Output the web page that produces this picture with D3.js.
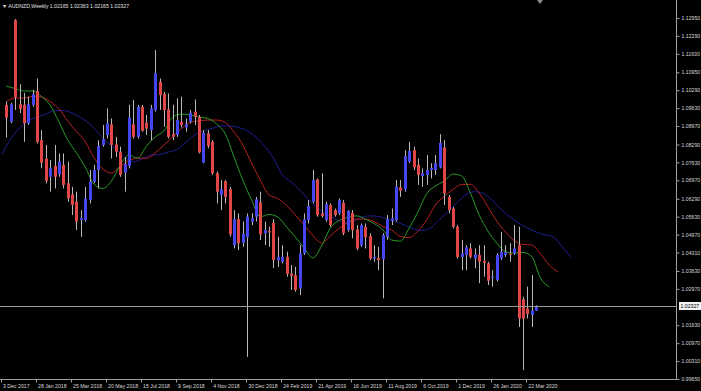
<!DOCTYPE html>
<html><head><meta charset="utf-8">
<script src="https://cdn.jsdelivr.net/npm/d3@7"></script>
<style>html,body{margin:0;padding:0;background:#000;overflow:hidden}</style>
</head><body>
<svg id="c" width="701" height="391"></svg>
<script>
// ---- data ----
const titleText = "\u25BC AUDNZD,Weekly  1.02165 1.02363 1.02165 1.02327";
const firstBarDate = "2017-12-10"; // weekly bars, one per week
const opens = [1.0975,1.0913,1.1287,1.0977,1.0975,1.0907,1.0975,1.1026,1.0845,1.0777,
1.0710,1.0750,1.0720,1.0754,1.0686,1.0645,1.0618,1.0551,1.0551,1.0624,
1.0692,1.0735,1.0827,1.0864,1.0903,1.0829,1.0802,1.0725,1.0750,1.0903,
1.0857,1.0968,1.0909,1.0882,1.0956,1.1060,1.1015,1.0958,1.0867,1.0864,
1.0913,1.0892,1.0913,1.0950,1.0931,1.0762,1.0870,1.0839,1.0723,1.0643,
1.0694,1.0665,1.0458,1.0554,1.0467,1.0487,1.0545,1.0563,1.0616,1.0502,
1.0510,1.0540,1.0403,1.0397,1.0415,1.0354,1.0348,1.0299,1.0428,1.0551,
1.0618,1.0700,1.0575,1.0551,1.0606,1.0587,1.0575,1.0614,1.0514,1.0577,
1.0516,1.0458,1.0526,1.0492,1.0409,1.0411,1.0406,1.0489,1.0548,1.0551,
1.0671,1.0664,1.0766,1.0808,1.0754,1.0713,1.0717,1.0735,1.0735,1.0745,
1.0818,1.0636,1.0593,1.0526,1.0415,1.0422,1.0446,1.0409,1.0422,1.0400,
1.0391,1.0340,1.0330,1.0409,1.0422,1.0426,1.0428,1.0458,1.0258,1.0225,
1.0201,1.02165];
const highs = [1.0987,1.0983,1.1291,1.1051,1.1019,1.1005,1.1030,1.1072,1.0882,1.0827,
1.0772,1.0827,1.0796,1.0796,1.0766,1.0673,1.0655,1.0587,1.0673,1.0735,
1.0754,1.0845,1.0901,1.0962,1.0925,1.0857,1.0821,1.0783,1.0975,1.0993,
1.0975,1.0975,1.0938,1.0975,1.1177,1.1072,1.1023,1.1017,1.0975,1.0999,
1.1005,1.0925,1.0956,1.0995,1.0938,1.0882,1.0882,1.0845,1.0729,1.0698,
1.0698,1.0673,1.0587,1.0575,1.0545,1.0575,1.0576,1.0636,1.0655,1.0545,
1.0526,1.0554,1.0489,1.0458,1.0434,1.0385,1.0378,1.0458,1.0575,1.0624,
1.0735,1.0704,1.0723,1.0618,1.0612,1.0593,1.0630,1.0624,1.0587,1.0587,
1.0532,1.0538,1.0538,1.0502,1.0458,1.0452,1.0502,1.0569,1.0593,1.0698,
1.0698,1.0808,1.0839,1.0821,1.0777,1.0741,1.0790,1.0760,1.0790,1.0867,
1.0845,1.0643,1.0599,1.0532,1.0477,1.0458,1.0465,1.0446,1.0458,1.0458,
1.0397,1.0366,1.0428,1.0507,1.0458,1.0465,1.0532,1.0526,1.0268,1.0305,
1.0348,1.02363];
const lows = [1.0854,1.0907,1.0956,1.0945,1.0839,1.0901,1.0968,1.0833,1.0741,1.0686,
1.0655,1.0667,1.0710,1.0667,1.0618,1.0569,1.0514,1.0489,1.0545,1.0612,
1.0686,1.0667,1.0821,1.0851,1.0777,1.0783,1.0710,1.0655,1.0741,1.0851,
1.0851,1.0876,1.0864,1.0845,1.0950,1.0956,1.0894,1.0851,1.0845,1.0857,
1.0892,1.0876,1.0907,1.0901,1.0796,1.0760,1.0815,1.0717,1.0612,1.0587,
1.0612,1.0489,1.0446,1.0440,1.0452,1.0046,1.0532,1.0545,1.0477,1.0458,
1.0452,1.0374,1.0378,1.0391,1.0342,1.0293,1.0287,1.0274,1.0422,1.0538,
1.0612,1.0563,1.0560,1.0545,1.0526,1.0563,1.0569,1.0495,1.0508,1.0483,
1.0440,1.0452,1.0446,1.0403,1.0397,1.0366,1.0262,1.0477,1.0532,1.0545,
1.0636,1.0655,1.0760,1.0735,1.0680,1.0673,1.0680,1.0704,1.0717,1.0741,
1.0606,1.0575,1.0520,1.0409,1.0366,1.0366,1.0409,1.0373,1.0318,1.0342,
1.0311,1.0305,1.0324,1.0403,1.0415,1.0397,1.0422,1.0157,0.9998,1.0188,
1.0157,1.02165];
const closes = [1.0928,1.0977,1.1003,1.0960,1.0907,1.0977,1.1014,1.0839,1.0762,1.0695,
1.0741,1.0710,1.0766,1.0680,1.0630,1.0606,1.0545,1.0558,1.0630,1.0692,
1.0735,1.0823,1.0849,1.0907,1.0827,1.0802,1.0717,1.0757,1.0928,1.0857,
1.0967,1.0879,1.0888,1.0962,1.1091,1.1011,1.0956,1.0857,1.0858,1.0919,
1.0901,1.0903,1.0946,1.0931,1.0800,1.0872,1.0823,1.0723,1.0655,1.0664,
1.0636,1.0498,1.0554,1.0465,1.0499,1.0563,1.0557,1.0627,1.0498,1.0514,
1.0505,1.0403,1.0415,1.0415,1.0352,1.0345,1.0293,1.0428,1.0553,1.0602,
1.0698,1.0569,1.0565,1.0609,1.0532,1.0569,1.0624,1.0502,1.0584,1.0514,
1.0446,1.0532,1.0487,1.0409,1.0415,1.0403,1.0495,1.0553,1.0557,1.0673,
1.0658,1.0786,1.0805,1.0745,1.0717,1.0723,1.0735,1.0743,1.0760,1.0835,
1.0649,1.0587,1.0526,1.0415,1.0428,1.0450,1.0415,1.0424,1.0397,1.0393,
1.0327,1.0342,1.0422,1.0434,1.0432,1.0425,1.0446,1.0188,1.0188,1.0204,
1.0217,1.02327];

// Alligator lines, read every second week (week 0 = 3 Dec 2017)
const lipsStartWeek = 1;
const lipsValues = [1.1044,1.1035,1.1026,1.1026,1.1006,1.0974,1.0912,1.0846,1.0798,1.0746,
1.0683,1.0667,1.0694,1.0753,1.0790,1.0779,1.0823,1.0857,1.0879,1.0930,
1.0941,1.0938,1.0930,1.0925,1.0905,1.0868,1.0783,1.0698,1.0625,1.0563,
1.0571,1.0562,1.0525,1.0488,1.0448,1.0411,1.0455,1.0521,1.0549,1.0560,
1.0566,1.0554,1.0538,1.0514,1.0477,1.0473,1.0521,1.0580,1.0647,1.0676,
1.0694,1.0720,1.0713,1.0650,1.0569,1.0510,1.0466,1.0434,1.0429,1.0431,
1.0416,1.0337,1.0304];
const teethStartWeek = 1;
const teethValues = [1.0987,1.1000,1.1000,1.1006,1.1004,1.0987,1.0960,1.0916,1.0877,1.0840,
1.0781,1.0739,1.0724,1.0748,1.0770,1.0779,1.0778,1.0798,1.0827,1.0857,
1.0888,1.0910,1.0916,1.0919,1.0919,1.0910,1.0875,1.0827,1.0761,1.0698,
1.0643,1.0630,1.0604,1.0569,1.0532,1.0494,1.0466,1.0492,1.0520,1.0542,
1.0554,1.0554,1.0545,1.0527,1.0514,1.0490,1.0486,1.0510,1.0551,1.0606,
1.0639,1.0663,1.0682,1.0682,1.0650,1.0599,1.0547,1.0507,1.0475,1.0461,
1.0459,1.0426,1.0385,1.0359];
const jawStartWeek = 0;
const jawValues = [1.0794,1.0849,1.0890,1.0916,1.0930,1.0941,1.0954,1.0954,1.0945,1.0928,
1.0905,1.0871,1.0838,1.0812,1.0783,1.0766,1.0776,1.0790,1.0792,1.0801,
1.0811,1.0836,1.0864,1.0879,1.0888,1.0897,1.0897,1.0892,1.0879,1.0857,
1.0823,1.0779,1.0718,1.0691,1.0661,1.0626,1.0597,1.0573,1.0556,1.0543,
1.0545,1.0560,1.0566,1.0564,1.0554,1.0545,1.0532,1.0518,1.0512,1.0523,
1.0553,1.0584,1.0615,1.0645,1.0655,1.0648,1.0623,1.0590,1.0562,1.0540,
1.0521,1.0507,1.0496,1.0488,1.0451,1.0413];

const priceTicks = [1.12950,1.12290,1.11630,1.10950,1.10290,1.09630,1.08970,1.08290,1.07630,1.06970,
1.06290,1.05630,1.04970,1.04310,1.03630,1.02970,1.01630,1.00970,1.00310,0.99650];
const currentPrice = 1.02327;
const dateTicks = ["3 Dec 2017","28 Jan 2018","25 Mar 2018","20 May 2018","15 Jul 2018","9 Sep 2018",
"4 Nov 2018","30 Dec 2018","24 Feb 2019","21 Apr 2019","16 Jun 2019","11 Aug 2019","6 Oct 2019",
"1 Dec 2019","26 Jan 2020","22 Mar 2020"];

// ---- drawing ----
const W = 701, H = 391;
const plotRight = 676, plotBottom = 379;
const FONT = "'Liberation Sans', Arial, sans-serif";
const svg = d3.select("#c");
svg.append("rect").attr("width", W).attr("height", H).attr("fill", "#000");

const week0 = Date.UTC(2017, 11, 3);
const WEEK = 7 * 24 * 3600 * 1000;
const x = d3.scaleUtc().domain([new Date(week0), new Date(Date.UTC(2020, 3, 5))]).range([2, 536.1]);
const y = d3.scaleLinear().domain([0.9965, 1.1295]).range([plotBottom, 18]);

const parseIso = d3.utcParse("%Y-%m-%d");
const parseTick = d3.utcParse("%d %b %Y");
const startBar = parseIso(firstBarDate).getTime();

svg.append("clipPath").attr("id", "plot").append("rect")
  .attr("x", 0).attr("y", 0).attr("width", plotRight).attr("height", plotBottom);
const g = svg.append("g").attr("clip-path", "url(#plot)");

// alligator lines
function lineData(start, vals) {
  return vals.map((v, i) => ({ d: new Date(week0 + (start + 2 * i) * WEEK), v }));
}
const line = d3.line().x(p => x(p.d)).y(p => y(p.v)).curve(d3.curveMonotoneX);
[[jawStartWeek, jawValues, "#1e1e96"], [teethStartWeek, teethValues, "#b82020"], [lipsStartWeek, lipsValues, "#2a9a2a"]]
  .forEach(([s, vals, col]) => {
    g.append("path").datum(lineData(s, vals)).attr("d", line)
      .attr("fill", "none").attr("stroke", col).attr("stroke-width", 1);
  });

// candles
const bars = opens.map((o, i) => ({
  d: new Date(startBar + i * WEEK), o, h: highs[i], l: lows[i], c: closes[i]
}));
const cg = g.selectAll("g.bar").data(bars).join("g").attr("class", "bar");
cg.append("line")
  .attr("x1", b => Math.round(x(b.d)) + 0.5).attr("x2", b => Math.round(x(b.d)) + 0.5)
  .attr("y1", b => y(b.h)).attr("y2", b => y(b.l))
  .attr("stroke", "#b8b8b8").attr("stroke-width", 1);
cg.append("rect")
  .attr("x", b => Math.round(x(b.d)) - 1).attr("width", 3)
  .attr("y", b => y(Math.max(b.o, b.c)))
  .attr("height", b => Math.max(1, Math.abs(y(b.o) - y(b.c))))
  .attr("fill", b => b.c >= b.o ? "#4646f0" : "#e04646");

// current price line
const yc = Math.round(y(currentPrice)) + 0.5;
svg.append("line").attr("x1", 0).attr("x2", plotRight).attr("y1", yc).attr("y2", yc)
  .attr("stroke", "#9a9a9a").attr("stroke-width", 1);

// frame lines
svg.append("line").attr("x1", plotRight + 0.5).attr("x2", plotRight + 0.5).attr("y1", 0).attr("y2", plotBottom + 0.5)
  .attr("stroke", "#a0a0a0");
svg.append("line").attr("x1", 0).attr("x2", plotRight + 0.5).attr("y1", plotBottom + 0.5).attr("y2", plotBottom + 0.5)
  .attr("stroke", "#a0a0a0");

// right price axis
const ya = svg.append("g").attr("transform", `translate(${plotRight + 0.5},0)`)
  .call(d3.axisRight(y).tickValues(priceTicks).tickFormat(d3.format(".5f")).tickSize(3).tickPadding(2));
ya.select(".domain").remove();
ya.selectAll("line").attr("stroke", "#a0a0a0");
ya.selectAll("text").attr("fill", "#d8d8d8").style("font-family", FONT).style("font-size", "5.2px");

// current price label
svg.append("rect").attr("x", plotRight + 3).attr("y", yc - 4.5).attr("width", 22).attr("height", 8).attr("fill", "#f2f2f2");
svg.append("text").attr("x", plotRight + 4.5).attr("y", yc).attr("dy", "0.35em").text(d3.format(".5f")(currentPrice))
  .attr("fill", "#000").style("font-family", FONT).style("font-size", "5.2px");

// bottom date axis
const dates = dateTicks.map(s => parseTick(s));
const xa = svg.append("g").attr("transform", `translate(0,${plotBottom + 0.5})`);
xa.selectAll("line").data(dates).join("line")
  .attr("x1", d => Math.round(x(d)) - 1 + 0.5).attr("x2", d => Math.round(x(d)) - 1 + 0.5)
  .attr("y1", 0).attr("y2", 3).attr("stroke", "#a0a0a0");
xa.selectAll("text").data(dates).join("text")
  .attr("x", d => x(d) + 1).attr("y", 8)
  .text((d, i) => dateTicks[i])
  .attr("fill", "#d8d8d8").style("font-family", FONT).style("font-size", "5.2px");

// title
svg.append("text").attr("x", 2).attr("y", 7.5).text(titleText)
  .attr("fill", "#e0e0e0").style("font-family", FONT).style("font-size", "5.2px");

// chart shift marker
svg.append("path").attr("d", "M537,0L543,0L540,4Z").attr("fill", "#8a8a8a");
</script>
</body></html>
